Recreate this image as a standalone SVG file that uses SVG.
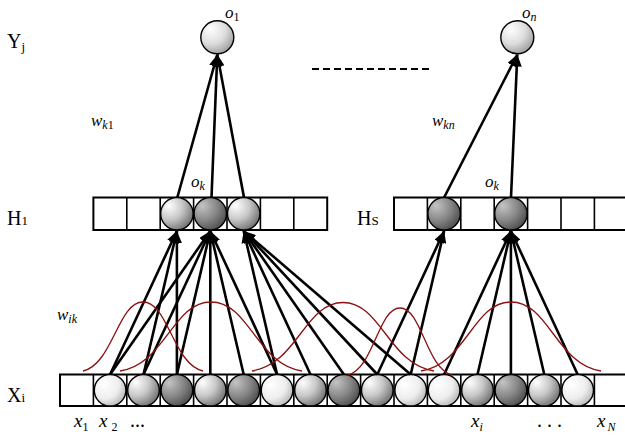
<svg xmlns="http://www.w3.org/2000/svg" width="625" height="436" viewBox="0 0 625 436">
<style>
.row{fill:#fff;stroke:#000;stroke-width:2}
.div{stroke:#000;stroke-width:1.6}
.node{stroke:#000;stroke-width:1.4}
.edge{stroke:#000;stroke-width:2.6;fill:none;marker-end:url(#ah)}
.bump{fill:none;stroke:#8b1010;stroke-width:1.3}
.rm{font-family:"Liberation Serif","Times New Roman",serif;font-size:20px;fill:#000}
.it{font-family:"Liberation Serif","Times New Roman",serif;font-size:17px;font-style:italic;fill:#000}
.xl{font-size:19px}
.sub{font-size:12px;font-style:normal}
.subi{font-size:12px;font-style:italic}
</style>
<defs>
<marker id="ah" markerUnits="userSpaceOnUse" markerWidth="12" markerHeight="10" refX="12" refY="5" orient="auto"><path d="M0,0 L12,5 L0,10 z" fill="#000"/></marker>
<radialGradient id="gVL" cx="0.35" cy="0.35" r="0.8" fx="0.3" fy="0.3"><stop offset="0" stop-color="#ffffff"/><stop offset="0.55" stop-color="#eeeeee"/><stop offset="1" stop-color="#a8a8a8"/></radialGradient>
<radialGradient id="gM" cx="0.3" cy="0.3" r="0.9" fx="0.25" fy="0.25"><stop offset="0" stop-color="#ffffff"/><stop offset="0.45" stop-color="#c8c8c8"/><stop offset="1" stop-color="#555555"/></radialGradient>
<radialGradient id="gD" cx="0.3" cy="0.3" r="0.9" fx="0.25" fy="0.25"><stop offset="0" stop-color="#c4c4c4"/><stop offset="0.5" stop-color="#858585"/><stop offset="1" stop-color="#3a3a3a"/></radialGradient>
<radialGradient id="gO" cx="0.35" cy="0.3" r="0.85" fx="0.3" fy="0.25"><stop offset="0" stop-color="#ffffff"/><stop offset="0.5" stop-color="#dddddd"/><stop offset="1" stop-color="#8a8a8a"/></radialGradient>
</defs>

<g id="labels">
<text class="rm" x="7" y="48">Y<tspan font-size="13" dy="3">j</tspan></text>
<text class="rm" x="7" y="225">H<tspan font-size="13">1</tspan></text>
<text class="rm" x="357" y="225">H<tspan font-size="13">S</tspan></text>
<text class="rm" x="7" y="402">X<tspan font-size="13">i</tspan></text>
<text class="it" x="91" y="126">w<tspan class="subi" dy="3">k</tspan><tspan class="sub">1</tspan></text>
<text class="it" x="432" y="126">w<tspan class="subi" dy="3">kn</tspan></text>
<text class="it" x="57" y="320">w<tspan class="subi" dy="3">ik</tspan></text>
<text class="it xl" x="74" y="427">x<tspan class="sub" dy="4">1</tspan></text>
<text class="it xl" x="99" y="427">x<tspan class="sub" dy="4" dx="4">2</tspan></text>
<text class="rm" x="130" y="427" font-size="17">...</text>
<text class="it xl" x="471" y="427">x<tspan class="subi" dy="4">i</tspan></text>
<text class="rm" x="537" y="427" font-size="17">. . .</text>
<text class="it xl" x="597" y="427">x<tspan class="subi" dy="4" dx="2">N</tspan></text>
</g>

<g id="input-layer">
<rect class="row" x="60" y="374.5" width="568" height="31.5"/>
<path class="div" d="M93.4,374.5V406M126.8,374.5V406M160.2,374.5V406M193.6,374.5V406M227,374.5V406M260.4,374.5V406M293.8,374.5V406M327.2,374.5V406M360.6,374.5V406M394,374.5V406M427.4,374.5V406M460.8,374.5V406M494.2,374.5V406M527.6,374.5V406M561,374.5V406M594.4,374.5V406"/>
<circle class="node" cx="110.1" cy="390.25" r="15.8" fill="url(#gVL)"/>
<circle class="node" cx="143.5" cy="390.25" r="15.8" fill="url(#gM)"/>
<circle class="node" cx="176.9" cy="390.25" r="15.8" fill="url(#gD)"/>
<circle class="node" cx="210.3" cy="390.25" r="15.8" fill="url(#gM)"/>
<circle class="node" cx="243.7" cy="390.25" r="15.8" fill="url(#gD)"/>
<circle class="node" cx="277.1" cy="390.25" r="15.8" fill="url(#gVL)"/>
<circle class="node" cx="310.5" cy="390.25" r="15.8" fill="url(#gM)"/>
<circle class="node" cx="343.9" cy="390.25" r="15.8" fill="url(#gD)"/>
<circle class="node" cx="377.3" cy="390.25" r="15.8" fill="url(#gM)"/>
<circle class="node" cx="410.7" cy="390.25" r="15.8" fill="url(#gVL)"/>
<circle class="node" cx="444.1" cy="390.25" r="15.8" fill="url(#gVL)"/>
<circle class="node" cx="477.5" cy="390.25" r="15.8" fill="url(#gM)"/>
<circle class="node" cx="510.9" cy="390.25" r="15.8" fill="url(#gD)"/>
<circle class="node" cx="544.3" cy="390.25" r="15.8" fill="url(#gM)"/>
<circle class="node" cx="577.7" cy="390.25" r="15.8" fill="url(#gVL)"/>
</g>

<g id="hidden-H1">
<rect class="row" x="93.4" y="197.5" width="233.8" height="32.5"/>
<path class="div" d="M126.8,197.5V230M160.2,197.5V230M193.6,197.5V230M227,197.5V230M260.4,197.5V230M293.8,197.5V230"/>
<circle class="node" cx="176.9" cy="213.75" r="16.2" fill="url(#gM)"/>
<circle class="node" cx="210.3" cy="213.75" r="16.2" fill="url(#gD)"/>
<circle class="node" cx="243.7" cy="213.75" r="16.2" fill="url(#gM)"/>
<text class="it" x="191" y="187">o<tspan class="subi" dy="3">k</tspan></text>
</g>

<g id="hidden-HS">
<rect class="row" x="394" y="197.5" width="233.8" height="32.5"/>
<path class="div" d="M427.4,197.5V230M460.8,197.5V230M494.2,197.5V230M527.6,197.5V230M561,197.5V230M594.4,197.5V230"/>
<circle class="node" cx="444.1" cy="213.75" r="16.2" fill="url(#gD)"/>
<circle class="node" cx="510.9" cy="213.75" r="16.2" fill="url(#gD)"/>
<text class="it" x="485" y="187">o<tspan class="subi" dy="3">k</tspan></text>
</g>

<g id="output-o1">
<circle class="node" cx="217.3" cy="37.3" r="16.5" fill="url(#gO)"/>
<text class="it" x="225" y="18">o<tspan class="sub" dy="3">1</tspan></text>
</g>
<g id="output-on">
<circle class="node" cx="517.3" cy="37.3" r="16.5" fill="url(#gO)"/>
<text class="it" x="522" y="18">o<tspan class="subi" dy="3">n</tspan></text>
</g>

<g id="ellipsis">
<line x1="312" y1="69" x2="430" y2="69" stroke="#000" stroke-width="2" stroke-dasharray="7,4"/>
</g>

<g id="connectors">
<path class="edge" d="M110.1,374.5L176.9,231"/>
<path class="edge" d="M143.5,374.5L176.9,231"/>
<path class="edge" d="M176.9,374.5L176.9,231"/>
<path class="edge" d="M110.1,374.5L210.3,231"/>
<path class="edge" d="M143.5,374.5L210.3,231"/>
<path class="edge" d="M176.9,374.5L210.3,231"/>
<path class="edge" d="M210.3,374.5L210.3,231"/>
<path class="edge" d="M243.7,374.5L210.3,231"/>
<path class="edge" d="M277.1,374.5L210.3,231"/>
<path class="edge" d="M277.1,374.5L243.7,231"/>
<path class="edge" d="M310.5,374.5L243.7,231"/>
<path class="edge" d="M343.9,374.5L243.7,231"/>
<path class="edge" d="M377.3,374.5L243.7,231"/>
<path class="edge" d="M410.7,374.5L243.7,231"/>
<path class="edge" d="M377.3,374.5L444.1,231"/>
<path class="edge" d="M410.7,374.5L444.1,231"/>
<path class="edge" d="M444.1,374.5L510.9,231"/>
<path class="edge" d="M477.5,374.5L510.9,231"/>
<path class="edge" d="M510.9,374.5L510.9,231"/>
<path class="edge" d="M544.3,374.5L510.9,231"/>
<path class="edge" d="M577.7,374.5L510.9,231"/>
<path class="edge" d="M177.3,197.5L217.3,54.5"/>
<path class="edge" d="M211.5,197.5L217.3,54.5"/>
<path class="edge" d="M244,197.5L217.3,54.5"/>
<path class="edge" d="M444.1,197.5L517.3,54.5"/>
<path class="edge" d="M511,197.5L517.3,54.5"/>
</g>

<g id="kernels">
<path class="bump" d="M83,371C113,364 117.8,302 143,302C168.2,302 173,364 203,371"/>
<path class="bump" d="M120,371C165.5,364 172.8,302 211,302C249.2,302 256.5,364 302,371"/>
<path class="bump" d="M252,371C297.5,364 304.8,302.5 343,302.5C381.2,302.5 388.5,364 434,371"/>
<path class="bump" d="M348,375C374,368 378.2,308 400,308C421.8,308 426,368 452,375"/>
<path class="bump" d="M421,371C466,364 473.2,302 511,302C548.8,302 556,364 601,371"/>
</g>
</svg>
